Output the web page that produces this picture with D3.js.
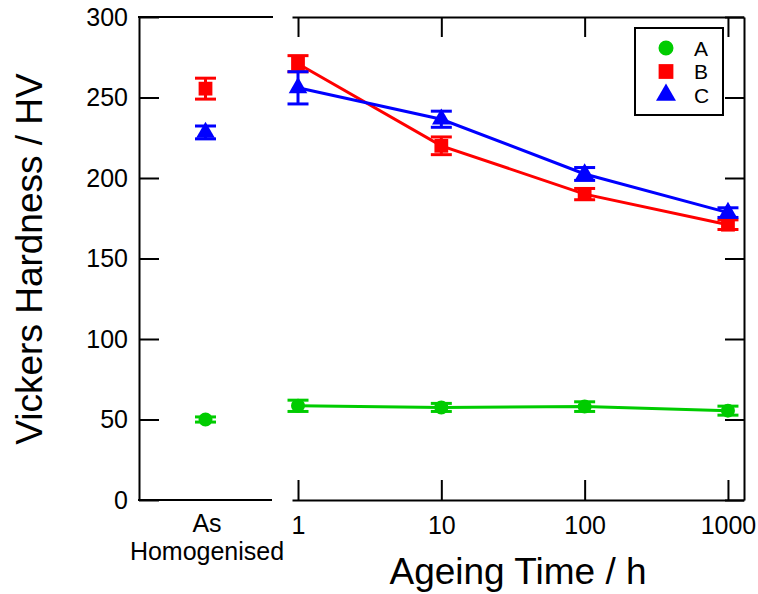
<!DOCTYPE html>
<html>
<head>
<meta charset="utf-8">
<script src="https://cdn.jsdelivr.net/npm/d3@7.9.0/dist/d3.min.js"></script>
<style>
  body { margin: 0; background: #fff; }
  svg { font-family: "Liberation Sans", Arial, sans-serif; }
</style>
</head>
<body>
<div id="chart"></div>
<script>
// data
const seriesNames = ['A', 'B', 'C'];
const seriesColors = ['#00cc00', '#ff0000', '#0000ff'];
const ageingTimes = [1, 10, 100, 1000];
const homogCategory = ['As Homogenised'];

const hvA = [58.5, 57.5, 58, 55.5];
const errA = [3.5, 2.5, 3, 2.8];
const hvB = [271, 220, 190, 171];
const errB = [5, 5.5, 3.5, 3];
const hvC = [256, 236.5, 202.5, 178.5];
const errC = [10, 5, 4, 3];

const homogHV = [50, 255.5, 228.3];
const homogErr = [1.6, 6.5, 4];

const yTicks = [0, 50, 100, 150, 200, 250, 300];
const xTicks = [1, 10, 100, 1000];

const width = 758;
const height = 594;

const svg = d3.select('#chart')
  .append('svg')
  .attr('width', width)
  .attr('height', height);

const yScale = d3.scaleLinear().domain([0, 300]).range([500, 17]);
const xCat = d3.scalePoint().domain(homogCategory).range([139, 272]).padding(0.5);
const xLog = d3.scaleLog().domain([0.908, 1294]).range([292, 744]);

// symbols
const symbolTypes = [d3.symbolCircle, d3.symbolSquare, d3.symbolTriangle];
const symbolSizes = [154, 190, 150];

function styleAxis(g) {
  g.selectAll('path, line').attr('stroke', '#000').attr('stroke-width', 2);
  g.selectAll('text').attr('fill', '#000').style('font-size', '25px');
}

// ---- left panel frame
svg.append('g')
  .attr('transform', `translate(139, 0)`)
  .call(d3.axisLeft(yScale).tickValues(yTicks).tickSizeInner(-20).tickSizeOuter(0).tickPadding(11))
  .call(styleAxis);

svg.append('line')
  .attr('x1', 138).attr('x2', 273).attr('y1', yScale(300)).attr('y2', yScale(300))
  .attr('stroke', '#000').attr('stroke-width', 2);

const catAxis = svg.append('g')
  .attr('transform', `translate(0, ${yScale(0)})`)
  .call(d3.axisBottom(xCat).tickSize(0).tickSizeOuter(0).tickPadding(16))
  .call(styleAxis);
catAxis.select('.domain').attr('d', `M138,0H272`);
catAxis.selectAll('.tick text')
  .attr('dy', null)
  .text(null)
  .each(function () {
    const t = d3.select(this);
    t.append('tspan').attr('x', 1).attr('y', 32).text('As');
    t.append('tspan').attr('x', 1).attr('y', 60).text('Homogenised');
  });

// ---- right panel frame
svg.append('g')
  .attr('transform', `translate(0, ${yScale(0)})`)
  .call(d3.axisBottom(xLog).tickValues(xTicks).tickFormat(d3.format('d'))
    .tickSizeInner(-20).tickSizeOuter(0).tickPadding(16))
  .call(styleAxis);

svg.append('g')
  .attr('transform', `translate(0, ${yScale(300)})`)
  .call(d3.axisTop(xLog).tickValues(xTicks).tickFormat('')
    .tickSizeInner(-20).tickSizeOuter(0))
  .call(styleAxis);

svg.append('g')
  .attr('transform', `translate(744, 0)`)
  .call(d3.axisRight(yScale).tickValues(yTicks).tickFormat('')
    .tickSizeInner(-19).tickSizeOuter(0))
  .call(styleAxis);

// ---- data
const aged = [
  { name: 'A', hv: hvA, err: errA },
  { name: 'B', hv: hvB, err: errB },
  { name: 'C', hv: hvC, err: errC },
];

const line = d3.line()
  .x((d) => xLog(d.t))
  .y((d) => yScale(d.v));

const capHalf = 10.5;

function drawErrorBar(g, x, v, e, color) {
  g.append('line')
    .attr('x1', x).attr('x2', x)
    .attr('y1', yScale(v - e)).attr('y2', yScale(v + e))
    .attr('stroke', color).attr('stroke-width', 3);
  [v - e, v + e].forEach((yy) => {
    g.append('line')
      .attr('x1', x - capHalf).attr('x2', x + capHalf)
      .attr('y1', yScale(yy)).attr('y2', yScale(yy))
      .attr('stroke', color).attr('stroke-width', 3);
  });
}

aged.forEach((s, i) => {
  const color = seriesColors[i];
  const g = svg.append('g').attr('class', 'series-' + s.name);
  const pts = ageingTimes.map((t, j) => ({ t, v: s.hv[j], e: s.err[j] }));

  g.append('path')
    .datum(pts)
    .attr('d', line)
    .attr('fill', 'none')
    .attr('stroke', color)
    .attr('stroke-width', 3);

  // as homogenised point
  drawErrorBar(g, xCat(homogCategory[0]), homogHV[i], homogErr[i], color);
  pts.forEach((p) => drawErrorBar(g, xLog(p.t), p.v, p.e, color));

  const sym = d3.symbol().type(symbolTypes[i]).size(symbolSizes[i]);
  g.append('path')
    .attr('d', sym)
    .attr('transform', `translate(${xCat(homogCategory[0])}, ${yScale(homogHV[i])})`)
    .attr('fill', color);
  g.selectAll('path.marker')
    .data(pts)
    .join('path')
    .attr('class', 'marker')
    .attr('d', sym)
    .attr('transform', (d) => `translate(${xLog(d.t)}, ${yScale(d.v)})`)
    .attr('fill', color);
});

// ---- legend
const legend = svg.append('g').attr('transform', 'translate(635, 28)');
legend.append('rect')
  .attr('width', 88).attr('height', 87)
  .attr('fill', '#fff').attr('stroke', '#000').attr('stroke-width', 2);

seriesNames.forEach((name, i) => {
  const row = legend.append('g').attr('transform', `translate(31, ${20 + i * 23.5})`);
  row.append('path')
    .attr('d', d3.symbol().type(symbolTypes[i]).size(symbolSizes[i] * 1.15))
    .attr('fill', seriesColors[i]);
  row.append('text')
    .attr('x', 28)
    .attr('dy', '0.36em')
    .style('font-size', '21px')
    .text(name);
});

// ---- axis titles
svg.append('text')
  .attr('x', 518)
  .attr('y', 584)
  .attr('text-anchor', 'middle')
  .style('font-size', '37px')
  .text('Ageing Time / h');

svg.append('text')
  .attr('transform', 'translate(42, 259) rotate(-90)')
  .attr('text-anchor', 'middle')
  .style('font-size', '37px')
  .text('Vickers Hardness / HV');
</script>
</body>
</html>
